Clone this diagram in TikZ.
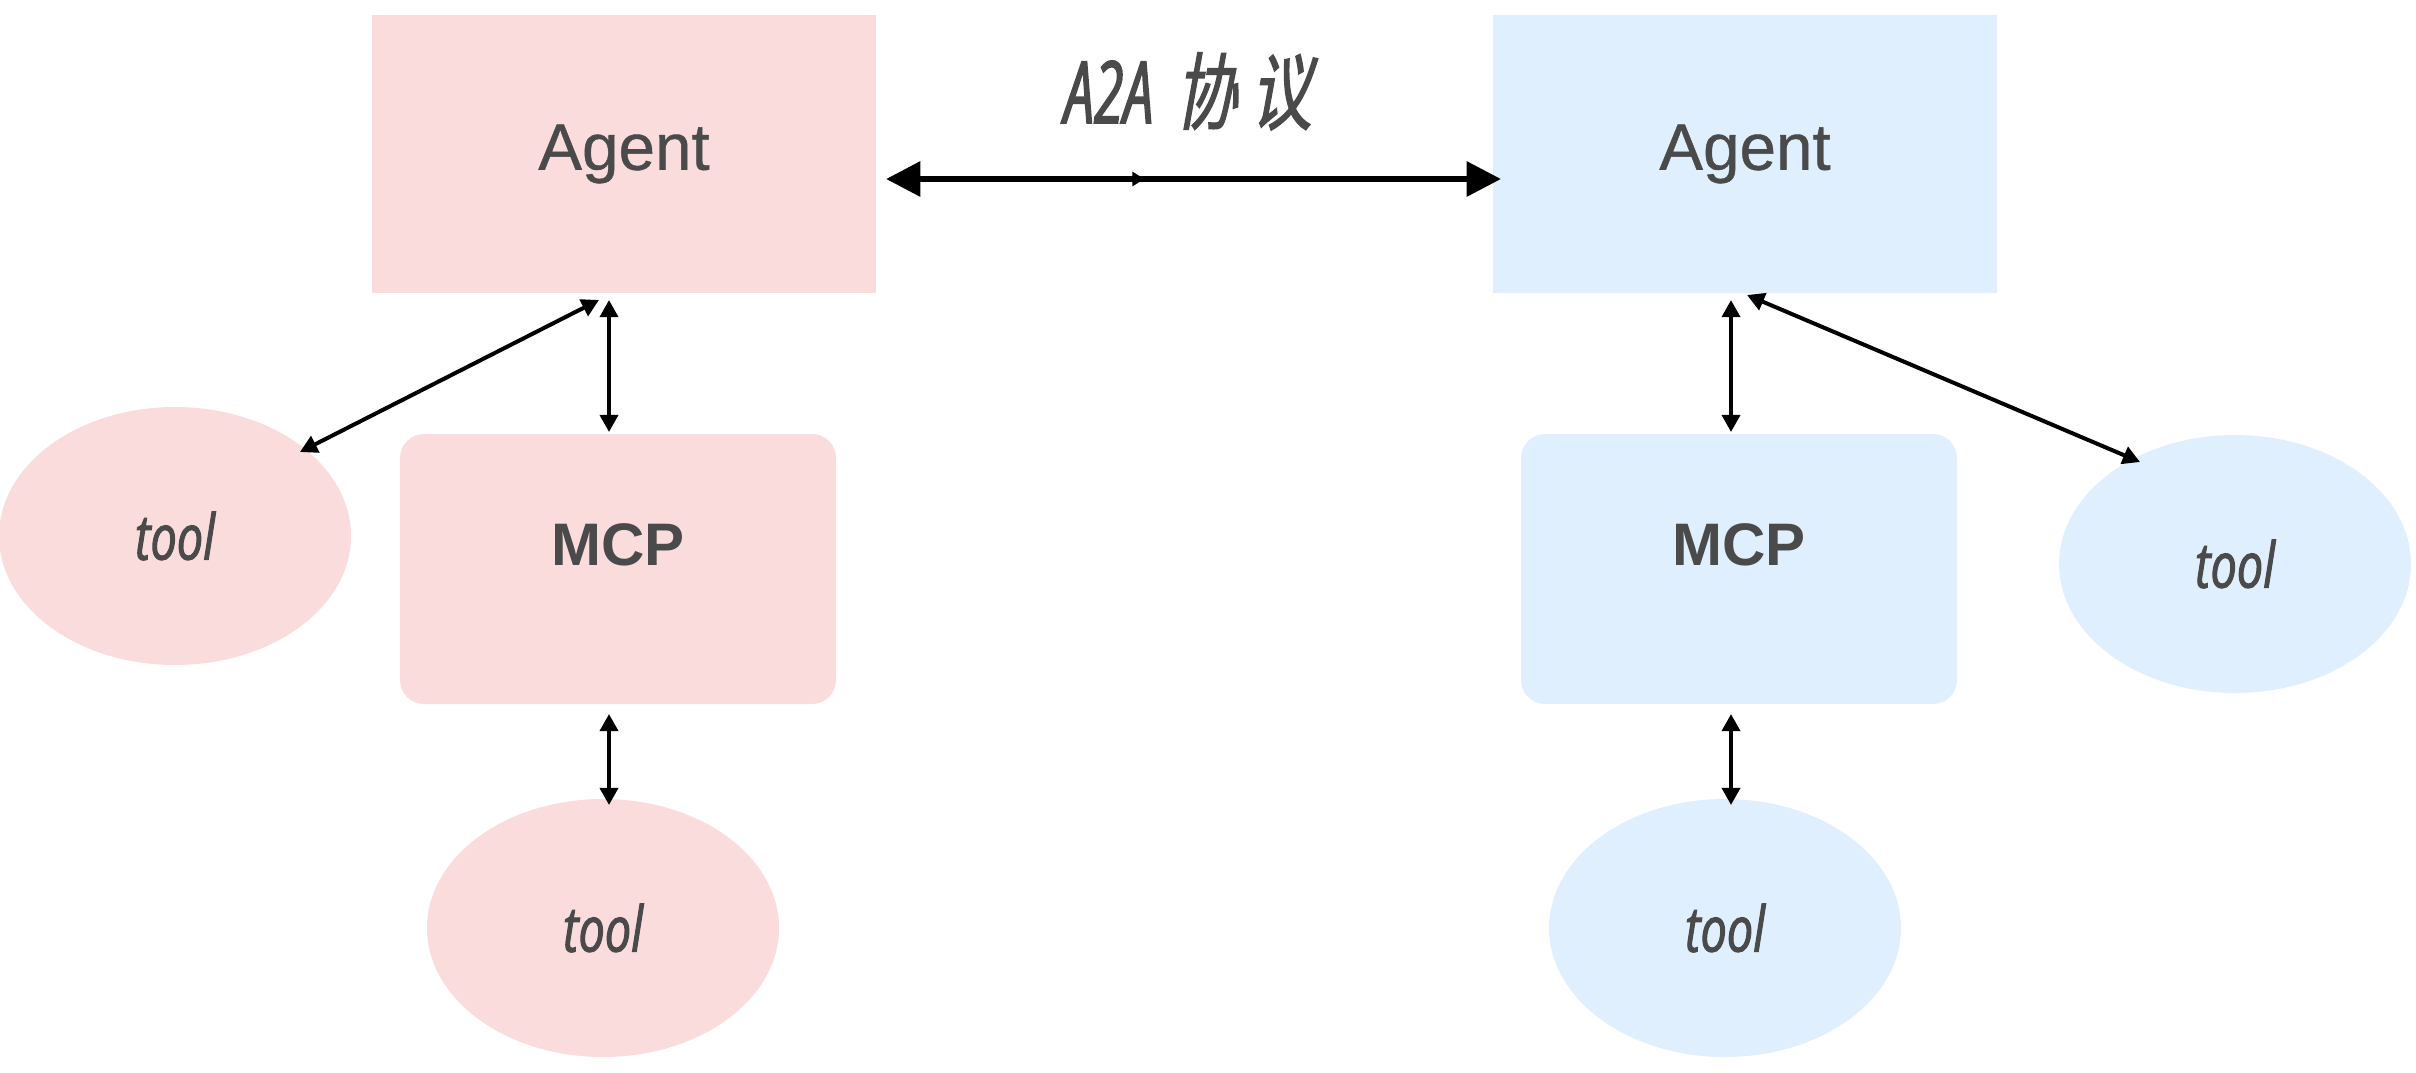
\documentclass[tikz,border=0pt]{standalone}
\usepackage{fontspec}
\usetikzlibrary{shapes.geometric,arrows.meta,calc,decorations.markings}
\setmainfont{Liberation Sans}
\newfontfamily\agentfont[FakeBold=0.6]{Liberation Sans}
\newfontfamily\toolfont[FakeStretch=0.74,ItalicFeatures={FakeBold=1.6}]{Open Sans}
\newfontfamily\titlelatin[FakeStretch=0.62,ItalicFeatures={FakeBold=1.8}]{Open Sans}
\newfontfamily\titlecjk[FakeSlant=0.18,FakeStretch=0.73,FakeBold=1.4]{Noto Sans CJK SC}
\definecolor{agentpink}{HTML}{F9DCDB}
\definecolor{agentblue}{HTML}{E0EFFE}
\definecolor{labelgray}{HTML}{4A4A4A}

\begin{document}
\begin{tikzpicture}[x=0.25pt, y=-0.25pt,
                    line width=1pt,
                    >={Triangle[length=4.3pt,width=4.5pt]}]
    \tikzstyle{agentbox}=[rectangle,minimum width=126pt,minimum height=69.5pt,inner sep=0pt,text=labelgray,font=\fontsize{16.4}{18}\agentfont]
    \tikzstyle{mcpbox}=[agentbox,minimum width=109pt,minimum height=67.5pt,rounded corners=6pt,font=\fontsize{15}{18}\selectfont\bfseries,text height=10.8pt,text depth=12.8pt]
    \tikzstyle{toolnode}=[ellipse,minimum width=88pt,minimum height=64.5pt,inner sep=0pt,text=labelgray,font=\fontsize{15.8}{18}\toolfont\itshape]
    \tikzstyle{link}=[<->]
    \tikzstyle{a2alink}=[{Triangle[length=8.6pt,width=8.5pt]}-{Triangle[length=8.6pt,width=8.5pt]},line width=1.6pt,
        postaction={decorate},decoration={markings,mark=at position 0.42 with {\arrow{Triangle[length=3pt,width=3.5pt]}}}]

    \useasboundingbox (0,0) rectangle (2416,1072);

    % left side
    \node[agentbox,fill=agentpink] (agentL) at (624,154) {Agent};
    \node[mcpbox,fill=agentpink] (mcpL) at (618,569) {MCP};
    \node[toolnode,fill=agentpink] (toolL) at (175,536) {tool};
    \node[toolnode,fill=agentpink] (toolBL) at (603,928) {tool};

    % right side
    \node[agentbox,fill=agentblue] (agentR) at (1745,154) {Agent};
    \node[mcpbox,fill=agentblue] (mcpR) at (1739,569) {MCP};
    \node[toolnode,fill=agentblue] (toolR) at (2235,564) {tool};
    \node[toolnode,fill=agentblue] (toolBR) at (1725,928) {tool};

    \node[anchor=base,text=labelgray,font=\fontsize{21}{24}\titlecjk] (a2a) at (1188,123) {{\fontsize{21.5}{24}\titlelatin\itshape A2A}\hspace{5.5pt}协\hspace{3.5pt}议};

    \draw[a2alink] ($(agentL.east)+(8,25)$) -- ($(agentR.west)+(10,25)$);

    \draw[link] ($(agentL.south)+(-25,5)$) -- ($(toolL.center)+(125,-84)$);
    \draw[link] ($(agentL.south)+(-15,5)$) -- ($(mcpL.north)+(-9,0)$);
    \draw[link] ($(mcpL.south)+(-9,8)$) -- ($(toolBL.north)+(6,8)$);

    \draw[link] ($(agentR.south)+(2,0)$) -- ($(toolR.center)+(-95,-102)$);
    \draw[link] ($(agentR.south)+(-14,5)$) -- ($(mcpR.north)+(-8,0)$);
    \draw[link] ($(mcpR.south)+(-8,8)$) -- ($(toolBR.north)+(6,8)$);
\end{tikzpicture}
\end{document}
